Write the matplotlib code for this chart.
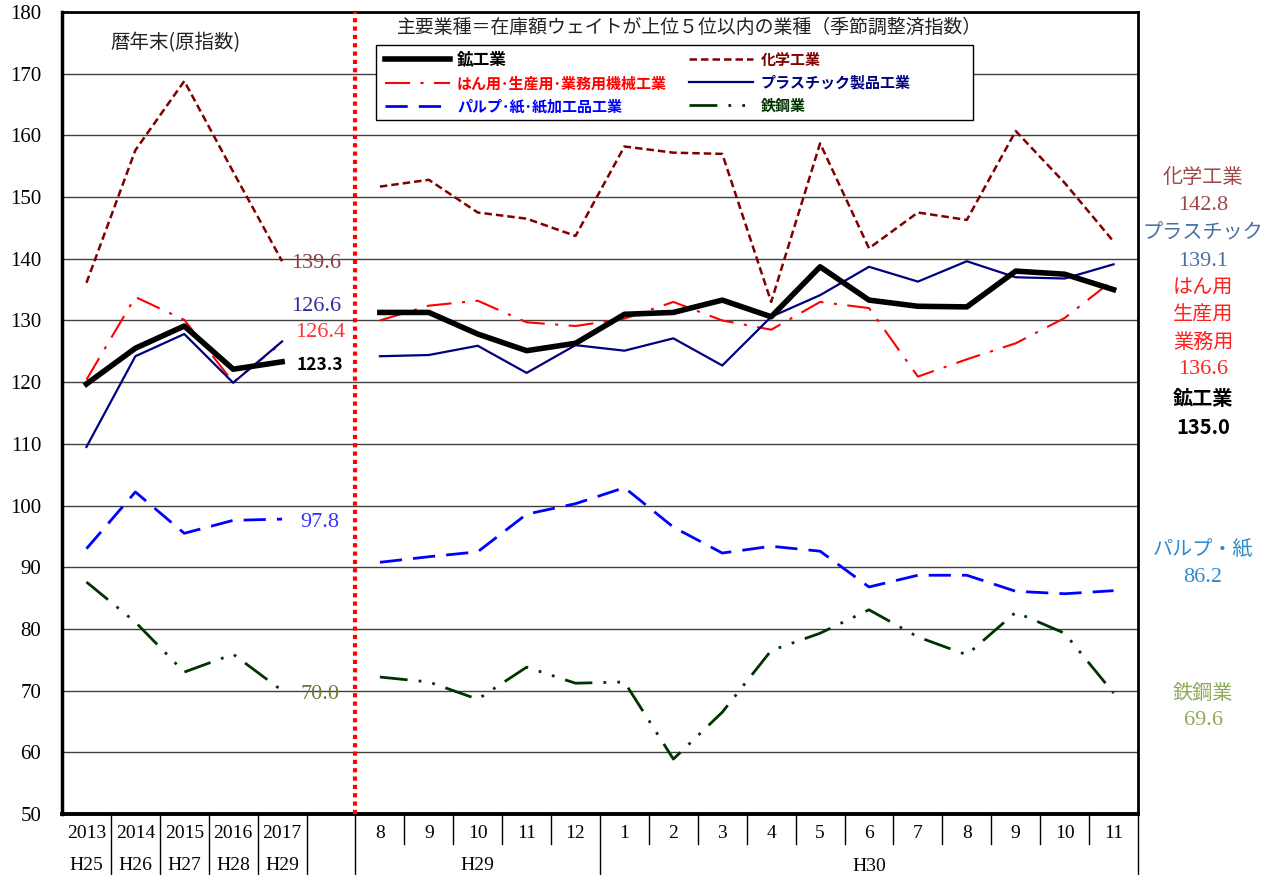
import matplotlib
matplotlib.use("Agg")
import matplotlib.pyplot as plt
import matplotlib.transforms as mtransforms
from matplotlib.patches import Rectangle
import numpy as np

plt.rcParams['font.family'] = ['Noto Sans CJK JP', 'DejaVu Sans']
SERIF = ['Liberation Serif', 'Noto Sans CJK JP']

# ---- data ----
year_labels = ['2013', '2014', '2015', '2016', '2017']
era_labels = ['H25', 'H26', 'H27', 'H28', 'H29']
month_labels = ['8', '9', '10', '11', '12', '1', '2', '3', '4', '5', '6', '7', '8', '9', '10', '11']

# annual (calendar year end, raw index)
mining_y  = [119.7, 125.5, 129.1, 122.1, 123.3]
chem_y    = [136.1, 157.6, 168.8, 154.1, 139.6]
general_y = [120.4, 133.8, 130.1, 120.0, 126.4]
plastic_y = [109.5, 124.2, 127.8, 119.9, 126.6]
pulp_y    = [93.0, 102.2, 95.5, 97.6, 97.8]
steel_y   = [87.6, 81.1, 73.0, 75.9, 70.0]

# monthly (H29/8 - H30/11, seasonally adjusted)
mining_m  = [131.3, 131.3, 127.8, 125.1, 126.3, 131.0, 131.3, 133.3, 130.6, 138.7, 133.3, 132.3, 132.2, 138.0, 137.5, 135.0]
chem_m    = [151.7, 152.8, 147.5, 146.5, 143.7, 158.2, 157.2, 157.0, 133.0, 158.7, 141.7, 147.5, 146.3, 160.7, 152.3, 142.8]
general_m = [130.0, 132.4, 133.2, 129.7, 129.1, 130.3, 133.0, 130.0, 128.5, 133.0, 132.0, 120.9, 123.7, 126.3, 130.4, 136.6]
plastic_m = [124.2, 124.4, 125.9, 121.5, 126.0, 125.1, 127.1, 122.7, 130.6, 134.1, 138.7, 136.3, 139.6, 137.0, 136.8, 139.1]
pulp_m    = [90.8, 91.7, 92.5, 98.6, 100.3, 102.9, 96.5, 92.3, 93.4, 92.6, 86.8, 88.7, 88.7, 86.1, 85.7, 86.2]
steel_m   = [72.2, 71.4, 68.6, 73.8, 71.2, 71.4, 58.9, 66.5, 76.5, 79.3, 83.1, 78.7, 75.8, 82.7, 79.3, 69.6]

xa = np.arange(len(year_labels))
xm = np.arange(len(month_labels)) + len(year_labels) + 1
nslots = len(year_labels) + 1 + len(month_labels)

fig = plt.figure(figsize=(12.72, 8.75), dpi=100)
ax = fig.add_axes([62 / 1272, 61 / 875, 1076 / 1272, 802 / 875])

series = [
    ('鉱工業', mining_y, mining_m, dict(color='black', lw=4.0, ls='-')),
    ('はん用･生産用･業務用機械工業', general_y, general_m, dict(color='#FF0000', lw=1.5, ls=(0, (12, 5, 1.5, 5)))),
    ('パルプ･紙･紙加工品工業', pulp_y, pulp_m, dict(color='#0000FF', lw=2.0, ls=(0, (8, 4)))),
    ('化学工業', chem_y, chem_m, dict(color='#800000', lw=1.8, ls=(0, (3, 1.6)))),
    ('プラスチック製品工業', plastic_y, plastic_m, dict(color='#000080', lw=1.6, ls='-')),
    ('鉄鋼業', steel_y, steel_m, dict(color='#003300', lw=2.0, ls=(0, (10, 4, 1, 4, 1, 4)))),
]

handles = []
for name, ya, ym, st in series:
    h, = ax.plot(xa, ya, label=name, zorder=5 if name == '鉱工業' else 4, **st)
    ax.plot(xm, ym, zorder=h.get_zorder(), **st)
    handles.append(h)

ax.set_xlim(-0.5, nslots - 0.5)
ax.set_ylim(50, 180)
ax.set_yticks(np.arange(50, 181, 10))
ax.yaxis.grid(True, color='#404040', lw=1.0)
ax.set_axisbelow(True)
ax.tick_params(axis='y', length=0, pad=15, labelsize=15)
for t in ax.get_yticklabels():
    t.set_family(SERIF)
ax.set_xticks(range(nslots))
ax.set_xticklabels(year_labels + [''] + month_labels, family=SERIF, fontsize=14)
ax.tick_params(axis='x', length=0, pad=8)
for side, w in [('left', 2.5), ('bottom', 2.8), ('right', 2.0), ('top', 2.0)]:
    ax.spines[side].set_linewidth(w)

# divider between annual and monthly
ax.axvline(len(year_labels) + 0.5, color='#FF0000', lw=3, ls=(0, (1, 1)), zorder=6)

# category table below the axes
trans = mtransforms.blended_transform_factory(ax.transData, ax.transAxes)
full_bounds = list(np.arange(0.5, len(year_labels) + 1.5)) + [len(year_labels) + 5.5, nslots - 0.5]
for b in full_bounds:
    ax.plot([b, b], [0, -0.08], transform=trans, color='black', lw=1.0, clip_on=False)
for b in np.arange(len(year_labels) + 1.5, nslots - 0.5):
    if b not in full_bounds:
        ax.plot([b, b], [0, -0.038], transform=trans, color='black', lw=1.0, clip_on=False)
for x, lab in zip(xa, era_labels):
    ax.text(x, -0.064, lab, transform=trans, ha='center', va='center', family=SERIF, fontsize=14)
ax.text(np.mean(xm[:5]), -0.064, 'H29', transform=trans, ha='center', va='center', family=SERIF, fontsize=14)
ax.text(np.mean(xm[5:]), -0.066, 'H30', transform=trans, ha='center', va='center', family=SERIF, fontsize=14)

# titles
ax.text(12.34, 177.6, '主要業種＝在庫額ウェイトが上位５位以内の業種（季節調整済指数）',
        ha='center', va='center', fontsize=13.6, color='#222222')
ax.text(1.81, 175.1, '暦年末(原指数)', ha='center', va='center', fontsize=14, color='#222222')

# legend: box drawn separately, entries placed inside
ax.add_patch(Rectangle((0.2918, 0.8653), 0.5548, 0.0935, transform=ax.transAxes,
                       facecolor='white', edgecolor='black', lw=1.0, zorder=6.5))
leg = ax.legend(handles=handles, ncol=2, loc='upper left', bbox_to_anchor=(0.3002, 0.952),
                borderaxespad=0, borderpad=0, frameon=False,
                handlelength=4.3, handletextpad=0.5, columnspacing=1.45, labelspacing=0.47,
                labelcolor='linecolor', prop={'weight': 'bold', 'size': 10.8})
leg.get_texts()[0].set_fontsize(12)
leg.set_zorder(7)

# end-of-year labels
ax.text(4.69, 139.2, '139.6', ha='center', va='center', family=SERIF, fontsize=16, color='#8B4040')
ax.text(4.69, 132.3, '126.6', ha='center', va='center', family=SERIF, fontsize=16, color='#2E2E9A')
ax.text(4.78, 128.0, '126.4', ha='center', va='center', family=SERIF, fontsize=16, color='#FF3333')
ax.text(4.78, 122.8, '123.3', ha='center', va='center', fontsize=12.5, fontweight='bold', color='black')
ax.text(4.78, 97.3, '97.8', ha='center', va='center', family=SERIF, fontsize=16, color='#3333FF')
ax.text(4.78, 69.4, '70.0', ha='center', va='center', family=SERIF, fontsize=16, color='#6B7B3A')

# latest-month labels on the right
right = [
    ('化学工業', 153.1, '#A04848', 'normal'), ('142.8', 148.7, '#A04848', 'normal'),
    ('プラスチック', 144.2, '#4A6FA5', 'normal'), ('139.1', 139.5, '#4A6FA5', 'normal'),
    ('はん用', 135.3, '#FF2020', 'normal'), ('生産用', 130.9, '#FF2020', 'normal'),
    ('業務用', 126.5, '#FF2020', 'normal'), ('136.6', 122.1, '#FF2020', 'normal'),
    ('鉱工業', 117.3, 'black', 'bold'), ('135.0', 112.7, 'black', 'bold'),
    ('パルプ・紙', 92.8, '#2E8BD0', 'normal'), ('86.2', 88.3, '#2E8BD0', 'normal'),
    ('鉄鋼業', 69.6, '#8FAA5A', 'normal'), ('69.6', 65.2, '#8FAA5A', 'normal'),
]
for txt, yv, c, w in right:
    if txt[0].isdigit() and w == 'normal':
        ax.text(22.83, yv, txt, ha='center', va='center', fontsize=16, color=c,
                family=SERIF, clip_on=False)
    else:
        ax.text(22.83, yv, txt, ha='center', va='center', fontsize=14.5, color=c,
                fontweight=w, clip_on=False)

fig.savefig('out.png', dpi=100)
